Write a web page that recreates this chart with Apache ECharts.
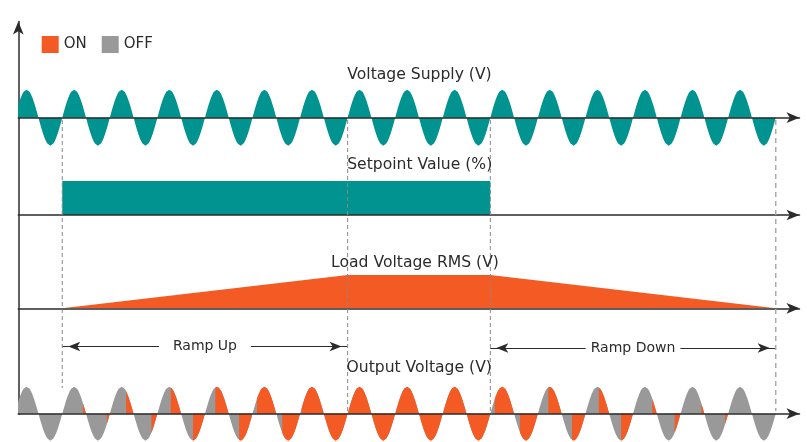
<!DOCTYPE html>
<html>
<head>
<meta charset="utf-8">
<script src="https://cdn.jsdelivr.net/npm/echarts@6/dist/echarts.min.js"></script>
<style>
  html, body { margin: 0; padding: 0; background: #fff; }
  #chart { width: 807px; height: 442px; }
</style>
</head>
<body>
<div id="chart"></div>
<script>
// ---- data (time in mains periods) ----
const cycles = 16
// one half cycle of the mains wave, 16 steps from 0 to pi
const halfWave = [0, 0.195, 0.383, 0.556, 0.707, 0.831, 0.924, 0.981, 1, 0.981, 0.924, 0.831, 0.707, 0.556, 0.383, 0.195, 0]
// firing step (0..16) inside each half cycle, 16 = never on
const fireStep = [16, 16, 14, 14, 11, 12, 9, 8, 7, 7, 3, 4, 1, 0, 0, 0,
                  0, 0, 0, 0, 3, 4, 7, 7, 9, 8, 13, 12, 14, 14, 16, 16]
const setpointT = [1, 1, 10, 10]
const setpointV = [0, 1, 1, 0]
const loadT = [1, 7, 10, 16]
const loadV = [0, 1, 1, 0]
const eventT = [1, 7, 10, 16]
const rampFrom = [1, 10]
const rampTo = [7, 16]
const rampNames = ['Ramp Up', 'Ramp Down']
const rowTitles = ['Voltage Supply (V)', 'Setpoint Value (%)', 'Load Voltage RMS (V)', 'Output Voltage (V)']

// ---- styles / layout ----
const TEAL = '#00938f'
const ORANGE = '#f45a23'
const GRAY = '#999999'
const INK = '#2b2b2b'
const FONT = '"DejaVu Sans", Verdana, sans-serif'

const plotLeft = 18.3
const plotRight = 7.5
const xMin = 0.076
const xMax = 16.5
const rows = [
  { top: 88.3, height: 58.8, min: -1.05, max: 1.05 },
  { top: 181, height: 34, min: 0, max: 1 },
  { top: 275, height: 33.3, min: 0, max: 1 },
  { top: 385.4, height: 57.8, min: -1.05, max: 1.05 }
]
const titleX = [419.5, 419.7, 415, 419.2]
const titleY = [75, 164.5, 262.5, 367.5]
const guideTop = 120
const guideBottom = [388, 413, 413, 411]
const rampY = [346.5, 348]
const rampPad = [[0, 14], [0, 5]]

// ---- build wave data ----
const stepsPerHalf = halfWave.length - 1
const supplyData = []
const onData = []
for (let h = 0; h < cycles * 2; h++) {
  const sign = h % 2 ? -1 : 1
  halfWave.forEach((v, k) => {
    if (k === 0 && h > 0) return
    supplyData.push([(h + k / stepsPerHalf) / 2, sign * v])
  })
  if (fireStep[h] < stepsPerHalf) {
    for (let k = fireStep[h]; k <= stepsPerHalf; k++) {
      onData.push([(h + k / stepsPerHalf) / 2, sign * halfWave[k]])
    }
    onData.push([(h + 1) / 2, null])
  }
}

const chart = echarts.init(document.getElementById('chart'))

const grids = rows.map(r => ({ left: plotLeft, right: plotRight, top: r.top, height: r.height }))
grids.push({ left: plotLeft, right: plotRight, top: 21.5, height: 392.8 }) // frame (y axis)
grids.push({ left: plotLeft, right: plotRight, top: 0, height: 442 })      // guides

const hidden = { axisTick: { show: false }, axisLabel: { show: false }, splitLine: { show: false } }

const xAxes = grids.map((g, i) => ({
  type: 'value', gridIndex: i, min: xMin, max: xMax, z: 5,
  axisLine: {
    show: i < 4, onZero: true, symbol: ['none', 'arrow'], symbolSize: [8, 13],
    lineStyle: { color: INK, width: 1.5 }
  },
  ...hidden
}))

const yAxes = rows.map((r, i) => ({
  type: 'value', gridIndex: i, min: r.min, max: r.max, show: false
}))
yAxes.push({
  type: 'value', gridIndex: 4, min: 0, max: 1,
  axisLine: { show: true, symbol: ['none', 'arrow'], symbolSize: [8, 13], lineStyle: { color: INK, width: 1.5 } },
  ...hidden
})
yAxes.push({ type: 'value', gridIndex: 5, min: 0, max: 442, inverse: true, show: false })

const areaLine = (name, grid, data, color, z) => ({
  name, type: 'line', xAxisIndex: grid, yAxisIndex: grid, data,
  showSymbol: false, symbol: 'none', z: z || 2,
  color, itemStyle: { color },
  lineStyle: { width: 0 },
  areaStyle: { color, opacity: 1 },
  connectNulls: false
})

const series = [
  areaLine('Supply', 0, supplyData, TEAL),
  areaLine('Setpoint', 1, setpointT.map((t, i) => [t, setpointV[i]]), TEAL),
  areaLine('Load', 2, loadT.map((t, i) => [t, loadV[i]]), ORANGE),
  areaLine('OFF', 3, supplyData, GRAY),
  areaLine('ON', 3, onData, ORANGE, 3)
]

eventT.forEach((t, i) => {
  series.push({
    type: 'line', xAxisIndex: 5, yAxisIndex: 5, z: 6, silent: true,
    data: [[t, guideTop], [t, guideBottom[i]]],
    showSymbol: false, symbol: 'none',
    lineStyle: i === 3 ? { color: '#aaaaaa', width: 1.5, type: [5, 4] } : { color: '#888888', width: 1, type: [4, 3] }
  })
})

series.push({
  type: 'line', xAxisIndex: 5, yAxisIndex: 5, z: 7, data: [],
  markLine: {
    silent: true, animation: false,
    symbol: ['arrow', 'arrow'], symbolSize: [7, 12], symbolOffset: [[0, 6], [0, 6]],
    lineStyle: { color: INK, width: 1.2, type: 'solid' },
    label: {
      show: true, position: 'insideMiddle', formatter: '{b}',
      fontFamily: FONT, fontSize: 14, color: INK, backgroundColor: '#fff'
    },
    emphasis: { disabled: true },
    data: rampNames.map((n, i) => [
      { name: n, coord: [rampFrom[i], rampY[i]], label: { padding: rampPad[i] } },
      { coord: [rampTo[i], rampY[i]] }
    ])
  }
})

chart.setOption({
  animation: false,
  textStyle: { fontFamily: FONT },
  legend: {
    data: ['ON', 'OFF'], left: 41.7, top: 36, padding: 0, icon: 'rect',
    itemWidth: 17, itemHeight: 17, itemGap: 15, selectedMode: false,
    textStyle: { fontFamily: FONT, fontSize: 15, color: INK }
  },
  grid: grids,
  xAxis: xAxes,
  yAxis: yAxes,
  series,
  graphic: rowTitles.map((t, i) => ({
    type: 'text', x: titleX[i], y: titleY[i], z: 10, silent: true,
    style: { text: t, fontFamily: FONT, fontSize: 15.6, fill: INK, align: 'center', verticalAlign: 'middle' }
  }))
})
</script>
</body>
</html>
